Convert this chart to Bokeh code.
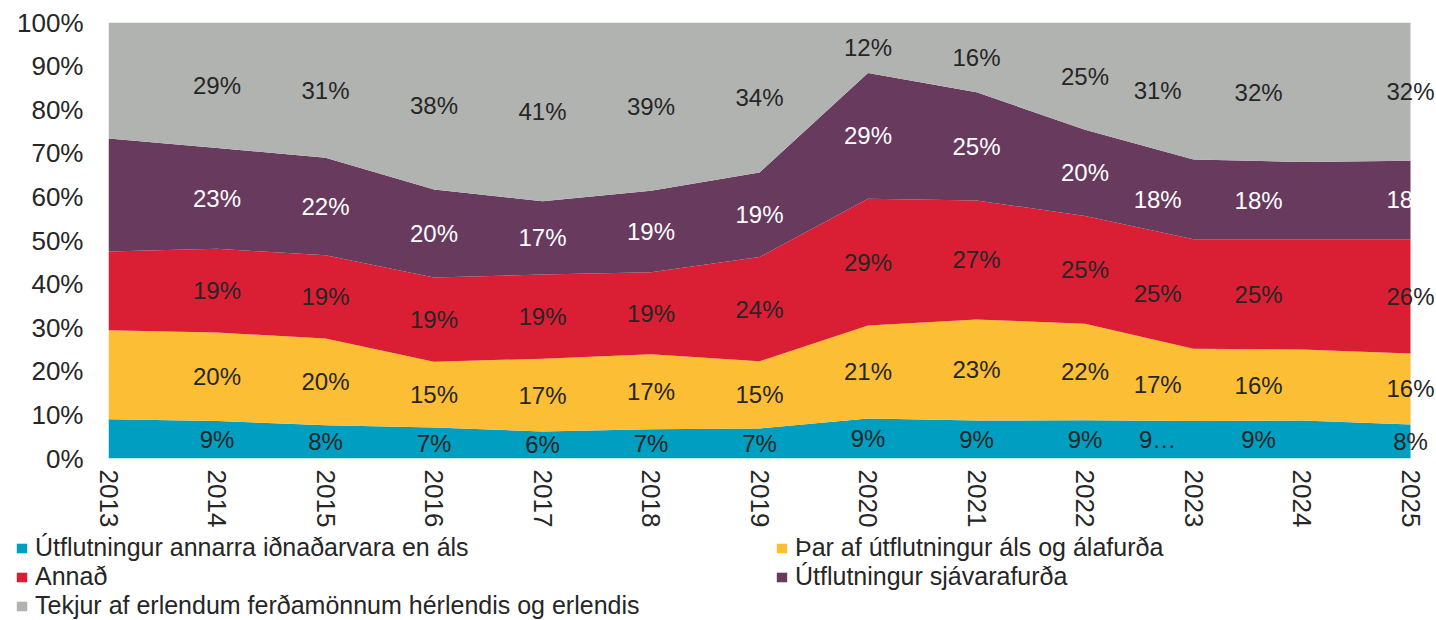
import math
from bokeh.plotting import figure
from bokeh.layouts import column
from bokeh.models import (ColumnDataSource, LabelSet, Legend, LegendItem, FixedTicker,
                          PrintfTickFormatter, Range1d)
from bokeh.core.properties import value
from bokeh.embed import file_html
from bokeh.resources import INLINE

# ---------------- data (shares of export revenue, %) ----------------
years = [2013, 2014, 2015, 2016, 2017, 2018, 2019, 2020, 2021, 2022, 2023, 2024, 2025]
other_industry = [9.0, 8.6, 7.6, 7.1, 6.2, 6.7, 6.9, 9.2, 8.7, 8.8, 8.6, 8.7, 7.8]
aluminium = [20.4, 20.3, 19.9, 15.1, 16.7, 17.2, 15.4, 21.3, 23.2, 22.1, 16.6, 16.3, 16.3]
other = [18.1, 19.2, 19.1, 19.3, 19.3, 18.8, 23.9, 29.1, 27.3, 24.7, 25.1, 25.3, 26.2]
seafood = [25.9, 23.1, 22.4, 20.2, 16.8, 18.7, 19.4, 28.8, 24.8, 19.8, 18.3, 17.7, 18.0]
tourism = [26.6, 28.8, 31.0, 38.3, 41.0, 38.6, 34.4, 11.6, 16.0, 24.6, 31.4, 32.0, 31.7]

series_names = [
    "Útflutningur annarra iðnaðarvara en áls",
    "Þar af útflutningur áls og álafurða",
    "Annað",
    "Útflutningur sjávarafurða",
    "Tekjur af erlendum ferðamönnum hérlendis og erlendis",
]
y_ticks = [0, 10, 20, 30, 40, 50, 60, 70, 80, 90, 100]
labelled_years = years[1:]
truncated_labels = {(0, 2023): "9…"}

# ---------------- style ----------------
keys = ["other_industry", "aluminium", "other", "seafood", "tourism"]
colors = ["#009EC0", "#FBBE35", "#DA1E34", "#683A5E", "#B1B3B0"]
label_colors = ["#262626", "#262626", "#262626", "#FFFFFF", "#262626"]
label_dx = {2023: -0.33, 2024: -0.4}
FONT = "Liberation Sans"
TXT = "#262626"

# plot frame: years span 1302 px; frame extends a little past 2025 (white) so edge labels show
SPAN_PX = 1302
FRAME_W = 1328
x_end = years[-1] + (FRAME_W - SPAN_PX) / SPAN_PX * (years[-1] - years[0])

series = [other_industry, aluminium, other, seafood, tourism]
src = ColumnDataSource(dict(year=years, **{k: s for k, s in zip(keys, series)}))

p = figure(frame_width=FRAME_W, frame_height=436,
           min_border_left=108, min_border_right=0, min_border_top=22, min_border_bottom=72,
           x_range=Range1d(years[0], x_end), y_range=Range1d(0, 100),
           output_backend="svg", toolbar_location=None)
p.outline_line_color = None
p.grid.visible = False
p.frame_align = False

renderers = p.varea_stack(keys, x="year", source=src, color=colors)

# data labels
lx, ly, lt, lc = [], [], [], []
for j, yr in enumerate(years):
    if yr not in labelled_years:
        continue
    base = 0.0
    for i, s in enumerate(series):
        v = s[j]
        lx.append(yr + label_dx.get(yr, 0.0))
        ly.append(base + v / 2)
        lt.append(truncated_labels.get((i, yr), f"{round(v)}%"))
        lc.append(label_colors[i])
        base += v
lab_src = ColumnDataSource(dict(x=lx, y=ly, text=lt, color=lc))
labels = LabelSet(x="x", y="y", text="text", text_color="color", source=lab_src,
                  text_align="center", text_baseline="middle",
                  text_font=value(FONT), text_font_size="24px")
p.add_layout(labels)

# axes
xa = p.xaxis[0]
xa.ticker = FixedTicker(ticks=years)
xa.major_label_orientation = -math.pi / 2
xa.axis_line_color = None
xa.major_tick_line_color = None
xa.minor_tick_line_color = None
xa.major_tick_out = 0
xa.major_label_standoff = 11
xa.major_label_text_font = FONT
xa.major_label_text_font_size = "26px"
xa.major_label_text_color = TXT

ya = p.yaxis[0]
ya.ticker = FixedTicker(ticks=y_ticks)
ya.formatter = PrintfTickFormatter(format="%d%%")
ya.axis_line_color = None
ya.major_tick_line_color = None
ya.minor_tick_line_color = None
ya.major_tick_out = 0
ya.major_label_standoff = 25
ya.major_label_text_font = FONT
ya.major_label_text_font_size = "26px"
ya.major_label_text_color = TXT

# legend: its own strip below the chart, two columns
lg = figure(width=1436, height=90, min_border=0, x_range=Range1d(0, 1), y_range=Range1d(0, 1),
            output_backend="svg", toolbar_location=None)
lg.axis.visible = False
lg.grid.visible = False
lg.outline_line_color = None
lg.frame_align = False
swatches = [lg.varea(x=[0, 0], y1=[0, 0], y2=[0, 0], color=c) for c in colors]
order = [0, 2, 4, 1, 3]
legend = Legend(items=[LegendItem(label=series_names[i], renderers=[swatches[i]]) for i in order],
                location=(15, 0), orientation="vertical", nrows=3,
                padding=0, margin=0, spacing=0,
                glyph_width=13, glyph_height=12, label_standoff=7,
                label_width=740, label_height=26,
                label_text_font=FONT, label_text_font_size="25px",
                label_text_color=TXT,
                border_line_color=None, background_fill_alpha=0)
lg.add_layout(legend, "center")

open("out.html", "w").write(file_html(column(p, lg), INLINE))
